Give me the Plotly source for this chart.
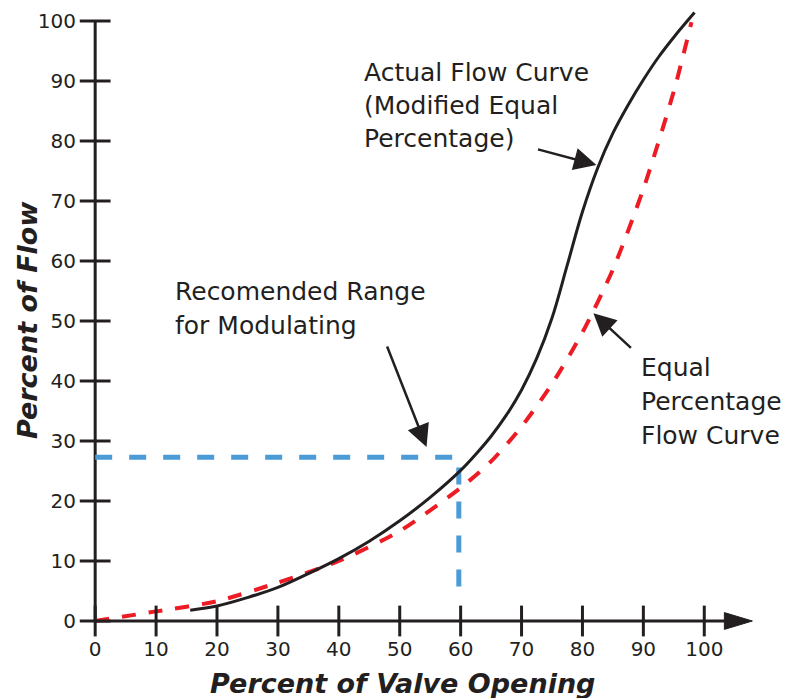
import plotly.graph_objects as go

# ---------------- data ----------------
valve_ticks = [0, 10, 20, 30, 40, 50, 60, 70, 80, 90, 100]
flow_ticks = [0, 10, 20, 30, 40, 50, 60, 70, 80, 90, 100]

actual_x = [15.6, 20, 25, 30, 35, 40, 45, 50, 55, 60, 62.5, 65, 67.5, 70, 72.5, 75, 77.5, 80,
            82.5, 85, 87.5, 90, 92.5, 95, 98.4]
actual_y = [1.8, 2.5, 3.9, 5.6, 7.9, 10.4, 13.3, 16.7, 20.6, 25.1, 27.8, 30.8, 34.3, 38.5, 43.8, 50.5, 59.3, 68.2,
            75.5, 81.3, 86.0, 90.2, 94.0, 97.3, 101.4]

equal_x = [0, 10, 20, 30, 40, 50, 60, 65, 70, 75, 80, 85, 90, 95, 97.9]
equal_y = [0, 1.6, 3.3, 6.4, 10.0, 15.0, 22.2, 26.6, 32.4, 39.5, 48.1, 58.6, 72.0, 88.3, 99.8]

range_valve = 59.7
range_flow = 27.3
range_floor = 5.5

actual_label = ["Actual Flow Curve", "(Modified Equal", "Percentage)"]
equal_label = ["Equal", "Percentage", "Flow Curve"]
range_label = ["Recomended Range", "for Modulating"]

# ---------------- styles ----------------
INK = "#231f20"
RED = "#ed1c24"
BLUE = "#4a9bd6"
FONT = "DejaVu Sans"

fig = go.Figure()

# recommended range (blue dashed)
fig.add_trace(go.Scatter(
    x=[0, range_valve, range_valve], y=[range_flow, range_flow, range_floor],
    mode="lines", line=dict(color=BLUE, width=5, dash="17px,17px"),
    hoverinfo="skip", cliponaxis=False))

# equal percentage (red dashed)
fig.add_trace(go.Scatter(
    x=equal_x, y=equal_y, mode="lines",
    line=dict(color=RED, width=4, dash="14px,13px", shape="spline", smoothing=0.7),
    hoverinfo="skip", cliponaxis=False))

# actual flow (black)
fig.add_trace(go.Scatter(
    x=actual_x, y=actual_y, mode="lines",
    line=dict(color=INK, width=3, shape="spline", smoothing=1.0),
    hoverinfo="skip", cliponaxis=False))

# tick marks crossing the axes
fig.add_trace(go.Scatter(
    x=valve_ticks, y=[0] * len(valve_ticks), mode="markers",
    marker=dict(symbol="line-ns", size=22, line=dict(width=3, color=INK)),
    hoverinfo="skip", cliponaxis=False))
fig.add_trace(go.Scatter(
    x=[0] * len(flow_ticks), y=flow_ticks, mode="markers",
    marker=dict(symbol="line-ew", size=22, line=dict(width=3, color=INK)),
    hoverinfo="skip", cliponaxis=False))

# axis lines and arrowhead
fig.add_shape(type="line", x0=0, x1=104, y0=0, y1=0, line=dict(color=INK, width=3), layer="below")
fig.add_shape(type="line", x0=0, x1=0, y0=0, y1=100, line=dict(color=INK, width=3), layer="below")
fig.add_shape(type="path", path="M 103.3,1.4 L 107.9,0 L 103.3,-1.4 Z",
              fillcolor=INK, line=dict(color=INK, width=1), layer="below")

ann = []
def text_lines(lines, x, y0, step, size=25):
    for i, t in enumerate(lines):
        ann.append(dict(x=x, y=y0 - i * step, xref="x", yref="y", text=t, showarrow=False,
                        xanchor="left", yanchor="middle",
                        font=dict(family=FONT, size=size, color=INK)))

text_lines(actual_label, 43.8, 91.5, 5.5)
text_lines(equal_label, 89.3, 42.2, 5.6)
text_lines(range_label, 12.8, 54.9, 5.6)

def arrow(x, y, ax, ay):
    ann.append(dict(x=x, y=y, xref="x", yref="y", ax=ax, ay=ay, text="", showarrow=True,
                    arrowhead=2, arrowsize=1.8, arrowwidth=2.5, arrowcolor=INK))

arrow(82.3, 76.0, -60, -16)
arrow(81.8, 51.3, 39, 36)
arrow(54.4, 29.0, -40, -102)

# axis titles (paper coordinates so they are drawn outside the axes)
ann.append(dict(x=0.4776, y=-0.0794, xref="paper", yref="paper",
                text="<b><i>Percent of Valve Opening</i></b>",
                showarrow=False, xanchor="center", yanchor="middle",
                font=dict(family=FONT, size=27, color=INK)))
ann.append(dict(x=-0.0835, y=0.4968, xref="paper", yref="paper",
                text="<b><i>Percent of Flow</i></b>",
                showarrow=False, xanchor="center", yanchor="middle", textangle=-90,
                font=dict(family=FONT, size=27, color=INK)))

fig.update_layout(
    width=801, height=698,
    margin=dict(l=83, r=48, t=3, b=65, autoexpand=False),
    paper_bgcolor="white", plot_bgcolor="white",
    showlegend=False,
    annotations=ann,
    xaxis=dict(range=[-2, 108], tickvals=valve_ticks, ticktext=[str(v) for v in valve_ticks],
               showgrid=False, zeroline=False, showline=False, ticks="", automargin=False,
               tickfont=dict(family=FONT, size=20, color=INK), ticklabelstandoff=2),
    yaxis=dict(range=[-2, 103], tickvals=flow_ticks, ticktext=[str(v) for v in flow_ticks],
               showgrid=False, zeroline=False, showline=False, ticks="", automargin=False,
               tickfont=dict(family=FONT, size=20, color=INK), ticklabelstandoff=6),
)

fig.write_html("out.html", config={"displayModeBar": False},
               post_script="document.body.style.margin='0';document.body.style.overflow='hidden';")
